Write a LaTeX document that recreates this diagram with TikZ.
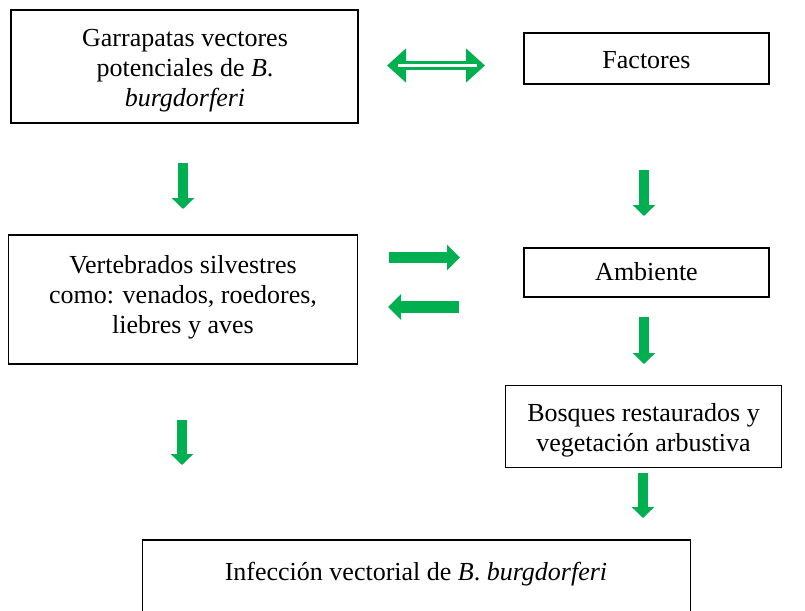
\documentclass[tikz,border=0pt]{standalone}
\usepackage{fontspec}
\setmainfont{Liberation Serif}
\usetikzlibrary{arrows.meta}
\definecolor{ogreen}{HTML}{00B050}
\tikzset{
  box/.style={draw=black, line width=1.3pt, inner sep=0pt},
  txt/.style={inner sep=0pt, align=center, font=\fontsize{26}{30}\selectfont},
  blockdown/.style={draw=ogreen, line width=10.5pt,
    -{Triangle[width=22pt,length=11pt]}},
  blockside/.style={draw=ogreen, line width=11.5pt,
    -{Triangle[width=25pt,length=13pt]}},
}
\begin{document}
\begin{tikzpicture}[x=1pt,y=-1pt]
\useasboundingbox (0,0) rectangle (805,610);
\clip (0,0) rectangle (805,610);
% boxes
\node[box, minimum width=347pt, minimum height=113pt] (g) at (184.5,66.5) {};
\node[txt] (gt) at (185,71) {Garrapatas vectores\\potenciales de \textit{B}.\\\textit{burgdorferi}};
\node[box, minimum width=245pt, minimum height=51pt] (f) at (646.5,58.5) {};
\node[txt] (ft) at (646.5,60) {Factores};
\node[box, minimum width=349pt, minimum height=129pt] (v) at (183,299.5) {};
\node[txt] (vt) at (183,297) {Vertebrados silvestres\\como: venados, roedores,\\liebres y aves};
\node[box, minimum width=245pt, minimum height=49pt] (a) at (646.5,272.5) {};
\node[txt] (at) at (646.5,272) {Ambiente};
\node[box, minimum width=276pt, minimum height=82pt] (b) at (643.5,426.5) {};
\node[txt] (bt) at (643.5,430) {Bosques restaurados y\\vegetación arbustiva};
\node[box, minimum width=548pt, minimum height=110pt] (i) at (416.5,595) {};
\node[txt] (it) at (416,574) {Infección vectorial de \textit{B}. \textit{burgdorferi}};
% double arrow
\coordinate (d1) at (387,65.5);
\coordinate (d2) at (485,65.5);
\draw[draw=ogreen, line width=8.5pt,
  {Triangle[width=33pt,length=19pt]}-{Triangle[width=33pt,length=19pt]}] (d1) -- (d2);
\draw[white, line width=2.5pt] ([xshift=11pt]d1) -- ([xshift=-8pt]d2);
% side arrows
\coordinate (r1) at (389,257.5);
\coordinate (r2) at (460,257.5);
\draw[blockside] (r1) -- (r2);
\coordinate (l1) at (459,307);
\coordinate (l2) at (388,307);
\draw[blockside] (l1) -- (l2);
% down arrows
\coordinate (ga) at (183,163);
\coordinate (gb) at (183,209);
\draw[blockdown] (ga) -- (gb);
\coordinate (fa) at (644,170);
\coordinate (fb) at (644,216);
\draw[blockdown] (fa) -- (fb);
\coordinate (aa) at (644,317);
\coordinate (ab) at (644,364);
\draw[blockdown] (aa) -- (ab);
\coordinate (ba) at (643,473);
\coordinate (bb) at (643,518);
\draw[blockdown] (ba) -- (bb);
\coordinate (va) at (182,420);
\coordinate (vb) at (182,465);
\draw[blockdown] (va) -- (vb);
\end{tikzpicture}
\end{document}
